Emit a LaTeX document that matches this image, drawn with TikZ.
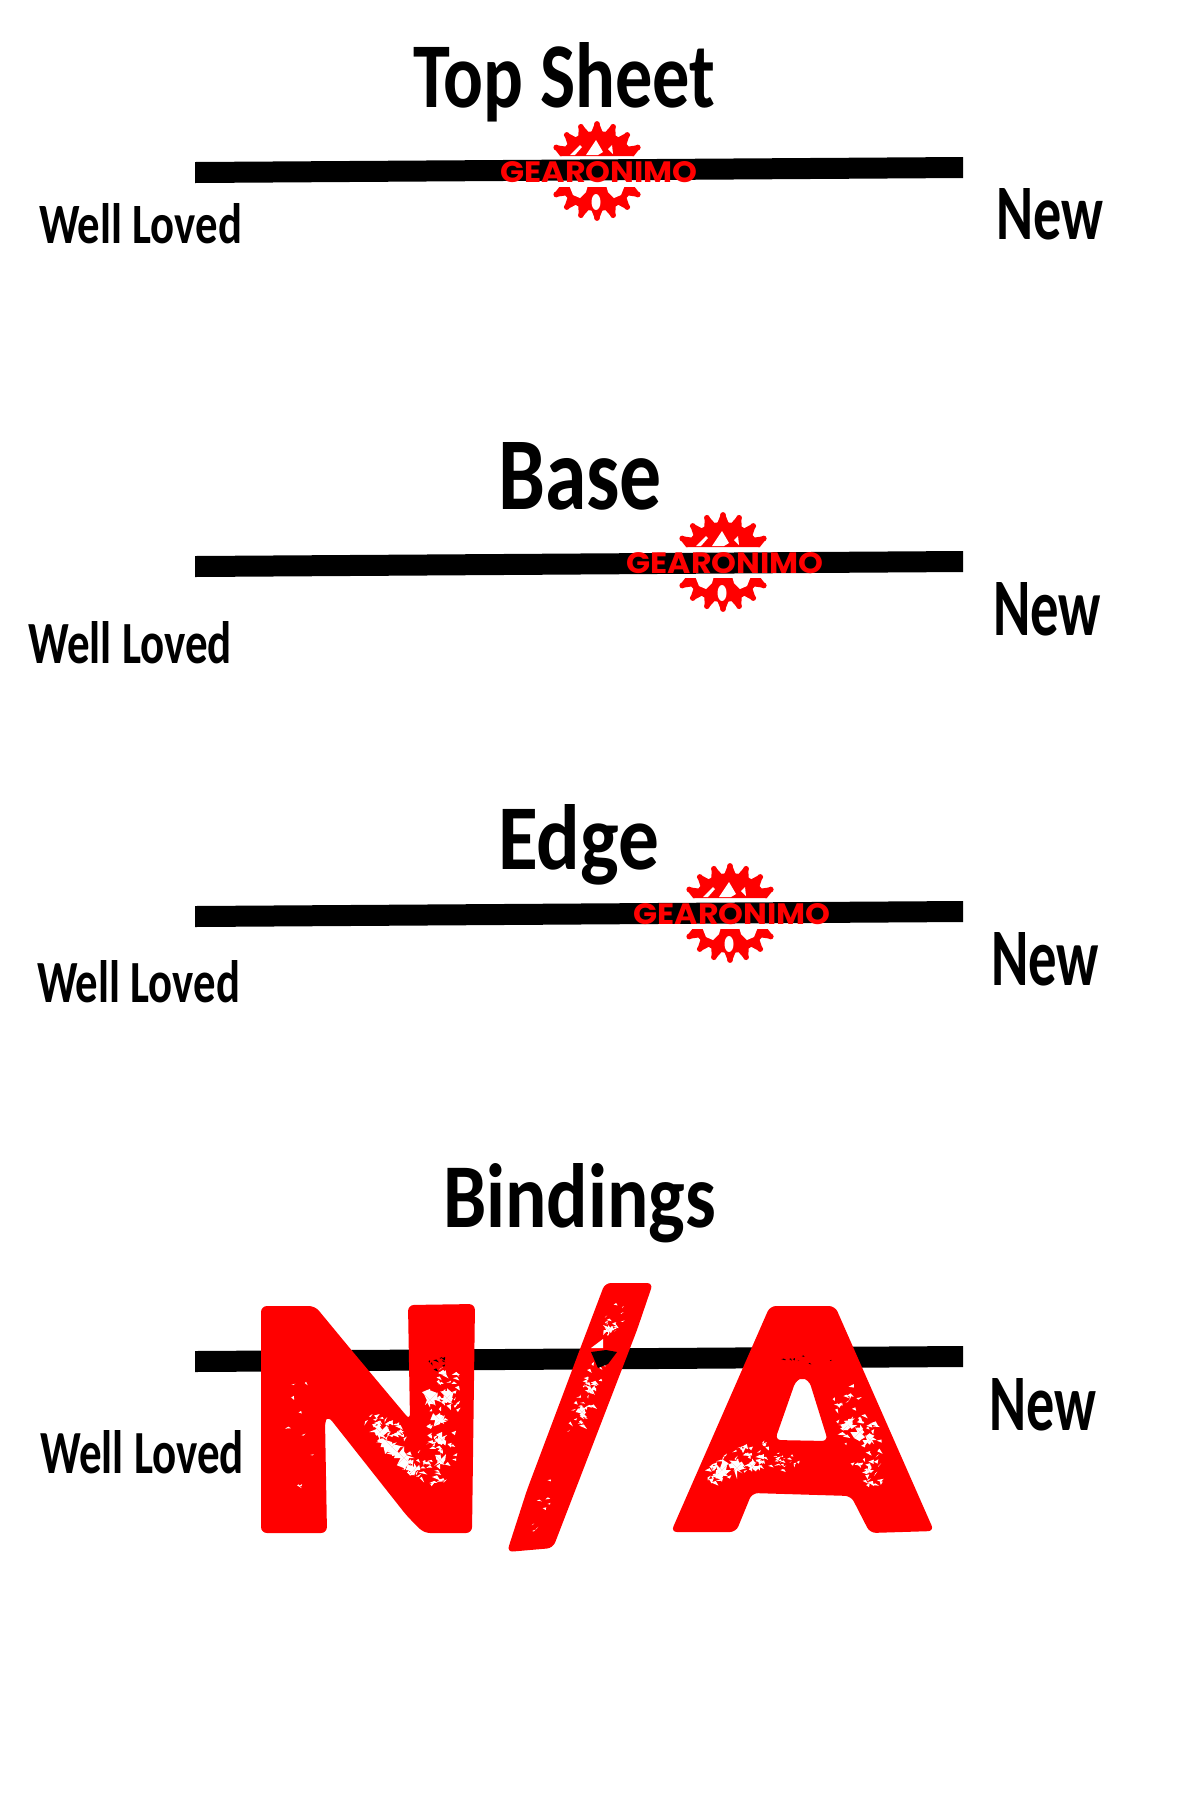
\documentclass[tikz,border=0pt]{standalone}
\usepackage{graphicx}
\usepackage{fontspec}
\setmainfont{Carlito}
\newfontfamily\logofont{Poppins}
\definecolor{logored}{RGB}{255,0,0}
\tikzset{
  label text/.style={inner sep=0pt,outer sep=0pt,anchor=base west,text=black,font=\bfseries},
  bar/.style={fill=black,draw=none},
  stamp/.style={fill=logored,draw=none,rounded corners=6pt},
}
% cx cy theta u v n size colour
\newcommand\specks[8]{%
  \foreach \k in {1,...,#6}{%
    \pgfmathsetmacro\uu{#4*rand}%
    \pgfmathsetmacro\vv{#5*rand*(1-0.5*abs(\uu/#4))}%
    \pgfmathsetmacro\px{#1+\uu*cos(#3)-\vv*sin(#3)}%
    \pgfmathsetmacro\py{#2+\uu*sin(#3)+\vv*cos(#3)}%
    \pgfmathsetmacro\ax{#7*(0.4+rnd)}%
    \pgfmathsetmacro\ay{#7*(0.4+rnd)}%
    \pgfmathsetmacro\bx{#7*(rand)}%
    \pgfmathsetmacro\by{#7*(0.4+rnd)}%
    \fill[#8] (\px,\py) -- ++(\ax,-\ay*0.5) -- ++(\bx,\by) -- cycle;%
  }%
}
% jagged blob: cx cy radius
\newcommand\jag[3]{%
  \begin{scope}[shift={(#1,#2)}]
    \foreach \a in {0,45,...,315}{%
      \pgfmathsetmacro\ra{#3*(0.25+rnd)}%
      \pgfmathsetmacro\rb{#3*(0.25+rnd)}%
      \fill[white] (0,0) -- (\a:\ra) -- (\a+45:\rb) -- cycle;%
    }
  \end{scope}%
}
\newcommand\gearlogo[3]{%
  \begin{scope}[shift={(#1,#2)}]
    \begin{scope}
      \clip (-70,-70) rectangle (70,-15) (-70,16) rectangle (70,70);
      \fill[logored] (0,0) circle[radius=40];
      \foreach \a in {10,30,...,350}{%
        \fill[logored] (\a-9:38.5) -- (\a-3:47) -- (\a+3:47) -- (\a+9:38.5) -- cycle;
        \fill[logored] (\a:47) circle[radius=2.9];
      }
      % mountains
      \fill[white] (-27,-16) -- (-17,-26) -- (-15,-24) -- (-22,-16) -- cycle;
      \fill[white] (-11,-16) -- (-1,-31) -- (6,-19) -- (1,-16) -- cycle;
      \fill[white] (11,-22) -- (15,-26) -- (16,-17) -- cycle;
      % lower cut-outs
      \fill[white] (-28,14) -- (-9,14) -- (-11,21) -- (-17,27) -- (-24,24) -- cycle;
      \fill[white] (9,14) -- (28,14) -- (24,24) -- (17,27) -- (11,21) -- cycle;
      \fill[white] (-1,31) ellipse[x radius=4.5,y radius=8];
    \end{scope}
    \node[inner sep=0pt,anchor=base west,text=logored] (#3) at (-96.5,11)
      {\resizebox{197pt}{21pt}{\logofont\bfseries GEARONIMO}};
  \end{scope}%
}
\begin{document}
\begin{tikzpicture}[x=1pt,y=-1pt]
\useasboundingbox (0,0) rectangle (1200,1800);
\fill[white] (0,0) rectangle (1200,1800);

% bars
\fill[bar] (195,162) -- (963,157) -- (963,178) -- (195,183) -- cycle;
\fill[bar] (195,556) -- (963,551) -- (963,572) -- (195,577) -- cycle;
\fill[bar] (195,906) -- (963,901) -- (963,922) -- (195,927) -- cycle;
\fill[bar] (195,1351) -- (963,1346) -- (963,1367) -- (195,1372) -- cycle;

% titles
\node[label text] (title1) at (413,107) {\resizebox{302pt}{65pt}{Top Sheet}};
\node[label text] (title2) at (498,509) {\resizebox{164pt}{67pt}{Base}};
\node[label text] (title3) at (498,869) {\resizebox{161pt}{65pt}{Edge}};
\node[label text] (title4) at (443,1227) {\resizebox{273pt}{64pt}{Bindings}};

% left labels
\node[label text] (well1) at (39,243) {\resizebox{203pt}{40pt}{Well Loved}};
\node[label text] (well2) at (28,663) {\resizebox{204pt}{42pt}{Well Loved}};
\node[label text] (well3) at (37,1002) {\resizebox{203pt}{42pt}{Well Loved}};
\node[label text] (well4) at (40,1473) {\resizebox{204pt}{43pt}{Well Loved}};

% right labels
\node[label text] (new1) at (996,239) {\resizebox{107pt}{51pt}{New}};
\node[label text] (new2) at (993,635) {\resizebox{108pt}{53pt}{New}};
\node[label text] (new3) at (991,985) {\resizebox{108pt}{53pt}{New}};
\node[label text] (new4) at (989,1430) {\resizebox{107pt}{52pt}{New}};

% gear logos
\gearlogo{597}{171}{logo1}
\gearlogo{723}{562}{logo2}
\gearlogo{730}{913}{logo3}

% N/A stamp
\fill[stamp]
  (261,1306) -- (315,1306) -- (353,1352) -- (410,1420) -- (408,1305) -- (475,1304)
  -- (472,1533) -- (424,1533) -- (407,1516) -- (328,1416) -- (325,1420) -- (327,1533)
  -- (261,1533) -- cycle;
\fill[stamp]
  (605,1283) -- (653,1283) -- (637,1330) -- (553,1548) -- (507,1552) -- (527,1490)
  -- (577,1357) -- cycle;
\fill[stamp,even odd rule]
  (770,1306) -- (835,1306) -- (934,1531) -- (870,1533) -- (851,1496) -- (752,1493)
  -- (736,1532) -- (671,1532) -- cycle
  (802,1378) -- (809,1380) -- (828,1441) -- (775,1440) -- (796,1380) -- cycle;

\pgfmathsetseed{4217}
% N speckle
\specks{396}{1446}{48}{40}{17}{60}{4}{white}
\jag{380}{1432}{9}\jag{392}{1447}{10}\jag{404}{1458}{10}\jag{414}{1470}{7}
\specks{442}{1427}{95}{58}{18}{70}{4}{white}
\jag{430}{1400}{9}\jag{447}{1398}{8}\jag{440}{1420}{8}\jag{442}{1440}{7}\jag{440}{1460}{7}
\specks{437}{1363}{0}{12}{8}{8}{2.5}{black}
\specks{298}{1445}{90}{70}{20}{9}{3}{white}
% slash speckle
\specks{613}{1320}{110}{18}{9}{16}{3}{white}
\jag{608}{1330}{6}
\specks{585}{1395}{110}{42}{11}{40}{3.5}{white}
\jag{590}{1390}{6}\jag{582}{1412}{6}
\fill[white] (591,1348) -- (603,1339) -- (603,1348) -- cycle;
\fill[black] (591,1352) -- (606,1350) -- (617,1352) -- (608,1364) -- (598,1368) -- cycle;
\specks{540}{1505}{110}{28}{8}{9}{3}{white}
% A speckle
\specks{738}{1463}{-25}{34}{16}{55}{4}{white}
\specks{778}{1462}{0}{22}{10}{28}{2.5}{white}
\jag{722}{1470}{9}\jag{737}{1468}{9}\jag{752}{1466}{7}
\specks{857}{1437}{70}{52}{20}{60}{4}{white}
\jag{848}{1425}{8}\jag{860}{1432}{9}\jag{870}{1440}{7}\jag{868}{1470}{5}
\specks{805}{1360}{0}{30}{6}{8}{1.8}{black}
\end{tikzpicture}
\end{document}
